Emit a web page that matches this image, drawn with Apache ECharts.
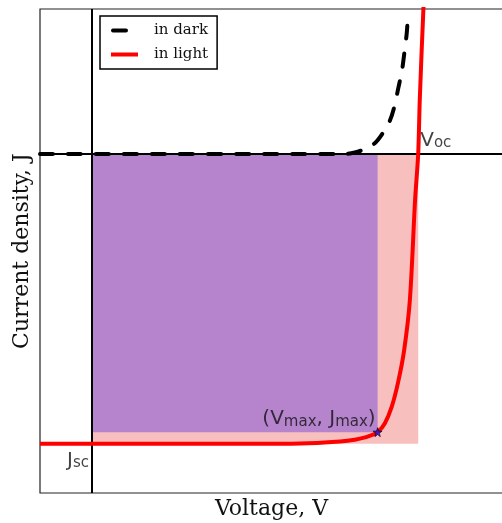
<!DOCTYPE html>
<html>
<head>
<meta charset="utf-8">
<script src="https://cdn.jsdelivr.net/npm/echarts@6/dist/echarts.min.js"></script>
<style>
  html, body { margin: 0; padding: 0; background: #fff; }
  #chart { width: 502px; height: 523px; }
</style>
</head>
<body>
<div id="chart"></div>
<script>
// J–V characteristics of a solar cell, normalised units (J / |Jsc|)
const seriesNames = ['in dark', 'in light'];
const axisNames = ['Voltage, V', 'Current density, J'];

// Dark curve
const vDark = [-0.100, 0.486, 0.505, 0.525, 0.544, 0.559, 0.573, 0.582, 0.588, 0.596, 0.601, 0.605, 0.607];
const jDark = [0.000, 0.000, 0.005, 0.017, 0.038, 0.072, 0.117, 0.169, 0.221, 0.290, 0.358, 0.417, 0.472];

// Illuminated curve
const vLight = [-0.100, 0.300, 0.400, 0.477, 0.505, 0.527, 0.538, 0.549, 0.563, 0.576, 0.588, 0.600, 0.611, 0.621, 0.627, 0.630, 0.637, 0.640];
const jLight = [-1.000, -1.000, -0.999, -0.992, -0.986, -0.977, -0.970, -0.960, -0.929, -0.873, -0.791, -0.677, -0.504, -0.159, 0.000, 0.186, 0.500, 0.600];

// Characteristic points
const Voc = 0.627;
const Jsc = -1.0;
const Vmax = 0.549;
const Jmax = -0.960;

// Visible axis ranges
const vRange = [-0.1, 0.79];
const jRange = [-1.17, 0.5];

const zip = (xs, ys) => xs.map((x, i) => [x, ys[i]]);

const serif = 'DejaVu Serif';
const sans = 'DejaVu Sans';

const subRich = {
  a: { fontFamily: sans, fontSize: 20, color: '#111', lineHeight: 24, verticalAlign: 'bottom' },
  b: { fontFamily: sans, fontSize: 15, color: '#111', lineHeight: 14, verticalAlign: 'bottom' }
};

// legend glyphs: a single rounded dash, and a solid bar (same 27px footprint)
const dashIcon = 'path://M2,0 H15 A2,2 0 0 1 15,4 H2 A2,2 0 0 1 2,0 Z M26.9,1.9 H27 V2 H26.9 Z';
const barIcon = 'path://M0,0 H27 V4 H0 Z';

const chart = echarts.init(document.getElementById('chart'), null, { renderer: 'canvas' });

chart.setOption({
  animation: false,
  backgroundColor: '#fff',
  grid: {
    left: 40, top: 9, right: -1, bottom: 30,
    outerBoundsMode: 'none',
    containLabel: false,
    show: true, borderColor: '#222', borderWidth: 1.2, backgroundColor: 'transparent'
  },
  legend: {
    orient: 'vertical',
    left: 100, top: 16,
    data: [
      { name: seriesNames[0], icon: dashIcon },
      { name: seriesNames[1], icon: barIcon }
    ],
    itemWidth: 27, itemHeight: 4, itemGap: 7,
    borderColor: '#000', borderWidth: 1.5, borderRadius: 0,
    padding: [6, 9, 6, 11],
    backgroundColor: '#fff',
    textStyle: { fontFamily: serif, fontSize: 15, color: '#111', padding: [0, 0, 0, 11], lineHeight: 17 }
  },
  xAxis: {
    type: 'value', min: vRange[0], max: vRange[1],
    axisLine: { show: false, onZero: false },
    axisTick: { show: false },
    axisLabel: { show: false },
    splitLine: { show: false },
    name: axisNames[0], nameLocation: 'middle', nameGap: 5,
    nameTextStyle: { fontFamily: serif, fontSize: 22, color: '#111' }
  },
  yAxis: {
    type: 'value', min: jRange[0], max: jRange[1],
    axisLine: { show: false, onZero: false },
    axisTick: { show: true, inside: true, length: 9, customValues: [Jsc], lineStyle: { color: '#000', width: 1.5 } },
    axisLabel: { show: false },
    splitLine: { show: false },
    name: axisNames[1], nameLocation: 'middle', nameGap: 7,
    nameTextStyle: { fontFamily: serif, fontSize: 22, color: '#111' }
  },
  series: [
    {
      // power rectangles: Voc x Jsc and Vmax x Jmax
      type: 'custom',
      z: 1,
      silent: true,
      data: [[0, Voc, Jsc, 0, 0], [0, Vmax, Jmax, 0, 1]],
      renderItem: function (params, api) {
        const p0 = api.coord([api.value(0), api.value(3)]);
        const p1 = api.coord([api.value(1), api.value(2)]);
        const fill = api.value(4) === 0 ? '#f8bfbf' : '#b584cd';
        return {
          type: 'rect',
          shape: { x: p0[0], y: p0[1], width: p1[0] - p0[0], height: p1[1] - p0[1] },
          style: { fill: fill }
        };
      }
    },
    {
      // annotations and zero axes
      type: 'scatter',
      z: 2,
      silent: true,
      symbolSize: 0,
      data: [
        {
          value: [Voc, 0],
          label: { show: true, position: [2, -27], align: 'left', verticalAlign: 'top',
                   formatter: '{a|V}{b|oc}', rich: subRich }
        },
        {
          value: [0, Jsc],
          label: { show: true, position: [-3, 3], align: 'right', verticalAlign: 'top',
                   formatter: '{a|J}{b|sc}', rich: subRich }
        },
        {
          value: [Vmax, Jmax],
          label: { show: true, position: [-2, -27], align: 'right', verticalAlign: 'top',
                   formatter: '{a|(V}{b|max}{a|, J}{b|max}{a|)}', rich: subRich }
        }
      ],
      markLine: {
        silent: true,
        symbol: 'none',
        label: { show: false },
        lineStyle: { color: '#000', width: 2, type: 'solid' },
        data: [{ xAxis: 0 }, { yAxis: 0 }]
      }
    },
    {
      name: seriesNames[0],
      type: 'line',
      z: 4,
      data: zip(vDark, jDark),
      symbol: 'none',
      showSymbol: false,
      smooth: 0.3,
      color: '#000',
      lineStyle: { color: '#000', width: 4, type: [13, 15], cap: 'round' }
    },
    {
      name: seriesNames[1],
      type: 'line',
      z: 5,
      data: zip(vLight, jLight),
      symbol: 'none',
      showSymbol: false,
      smooth: 0.3,
      color: '#ff0000',
      lineStyle: { color: '#ff0000', width: 4 }
    },
    {
      // maximum power point
      type: 'scatter',
      z: 6,
      silent: true,
      symbol: 'path://M50,0 L61,35 L98,35 L68,57 L79,91 L50,70 L21,91 L32,57 L2,35 L39,35 Z',
      symbolSize: 9,
      itemStyle: { color: '#1a1aff', borderColor: '#000', borderWidth: 0.8 },
      data: [[Vmax, Jmax]]
    }
  ]
});
</script>
</body>
</html>
